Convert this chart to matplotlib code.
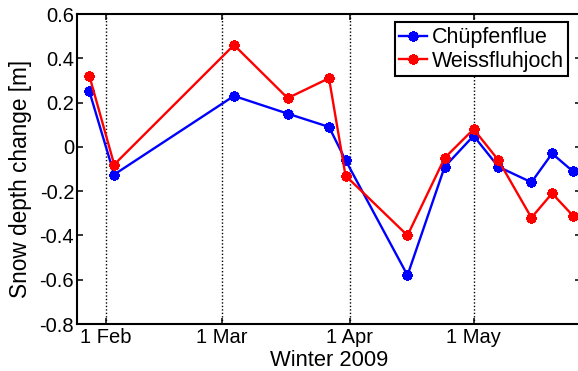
import datetime as dt

import matplotlib
matplotlib.use("Agg")
import matplotlib.pyplot as plt
import matplotlib.dates as mdates

# ── data ──────────────────────────────────────────────────────────────────────
dates = ["2009-01-28", "2009-02-03", "2009-03-04", "2009-03-17", "2009-03-27",
         "2009-03-31", "2009-04-15", "2009-04-24", "2009-05-01", "2009-05-07",
         "2009-05-15", "2009-05-20", "2009-05-25"]
chuepfenflue  = [0.25, -0.125, 0.23, 0.15, 0.09, -0.06, -0.58, -0.09, 0.05, -0.09,
                 -0.16, -0.03, -0.11]
weissfluhjoch = [0.32, -0.08, 0.46, 0.22, 0.31, -0.13, -0.40, -0.05, 0.08, -0.06,
                 -0.32, -0.21, -0.31]
month_ticks  = ["2009-02-01", "2009-03-01", "2009-04-01", "2009-05-01"]
month_labels = ["1 Feb", "1 Mar", "1 Apr", "1 May"]
y_ticks      = [-0.8, -0.6, -0.4, -0.2, 0, 0.2, 0.4, 0.6]
y_labels     = ["-0.8", "-0.6", "-0.4", "-0.2", "0", "0.2", "0.4", "0.6"]

to_dt = lambda s: dt.datetime.strptime(s, "%Y-%m-%d")
x = [to_dt(d) for d in dates]
xt = [to_dt(d) for d in month_ticks]

# ── style ─────────────────────────────────────────────────────────────────────
FS_TICK  = 14.5
FS_LABEL = 15.8
plt.rcParams.update({
    "font.family": "Liberation Sans",
    "font.size": FS_TICK,
    "axes.linewidth": 1.5,
    "xtick.direction": "in", "ytick.direction": "in",
    "xtick.major.size": 4, "ytick.major.size": 4,
    "xtick.major.width": 1.1, "ytick.major.width": 1.1,
})

fig = plt.figure(figsize=(5.78, 3.71), dpi=100)
ax = fig.add_axes([77 / 578, 47 / 371, 504 / 578, 310 / 371])

mk = dict(marker=(8, 2, 0), markersize=7.5, markeredgewidth=2.1, linewidth=1.7)
ax.plot(x, chuepfenflue, color="#0000ff", label="Chüpfenflue", **mk)
ax.plot(x, weissfluhjoch, color="#ff0000", label="Weissfluhjoch", **mk)

for t in xt:
    ax.axvline(t, color="black", linestyle=(0, (1, 1.5)), linewidth=1, zorder=0)

ax.set_xlim(to_dt("2009-01-25"), to_dt("2009-05-27"))
ax.set_ylim(-0.8, 0.6)
ax.set_xticks(mdates.date2num(xt))
ax.set_xticklabels(month_labels)
ax.set_yticks(y_ticks)
ax.set_yticklabels(y_labels)
ax.tick_params(top=True, right=True)
ax.tick_params(axis="y", pad=2)
ax.tick_params(axis="x", pad=3)

ax.set_xlabel("Winter 2009", fontsize=FS_LABEL, va="top")
ax.xaxis.set_label_coords(0.5, -0.085)
ax.set_ylabel("Snow depth change [m]", fontsize=16.3)
ax.yaxis.set_label_coords(-0.09, 0.468)

leg = ax.legend(loc="upper right", bbox_to_anchor=(0.975, 0.973), fancybox=False,
                framealpha=1, edgecolor="black", handlelength=1.3,
                handletextpad=0.2, borderpad=0.22, labelspacing=0.12,
                borderaxespad=0, fontsize=15.5)
leg.get_frame().set_linewidth(1.5)

fig.savefig("out.png", dpi=100)
